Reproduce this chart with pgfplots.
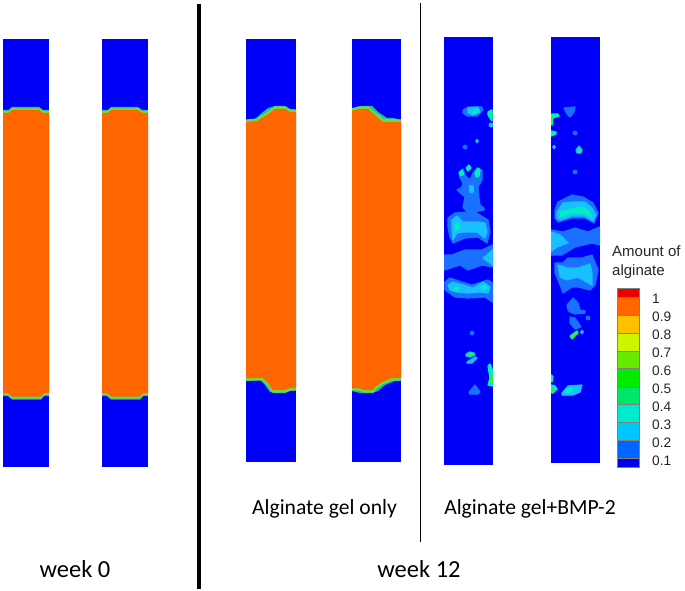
\documentclass[border=0pt]{standalone}
\usepackage{pgfplots}
\pgfplotsset{compat=1.18}
\usepackage{fontspec}
\setmainfont{Carlito}
\newfontfamily\arialf{Liberation Sans}
\definecolor{cB}{HTML}{0000F8}
\definecolor{cO}{HTML}{FF6600}
\definecolor{cT}{HTML}{22BBA0}
\definecolor{cG}{HTML}{66E040}
\definecolor{lA}{HTML}{1A70FF}
\definecolor{lB}{HTML}{18C0FF}
\definecolor{lC}{HTML}{00EEC0}
\definecolor{lD}{HTML}{20F060}
\newcommand\poly[2]{\addplot[fill=#1,draw=none,forget plot] coordinates {#2} --cycle;}
\newcommand\blob[2]{\addplot[fill=#1,draw=#1,line width=1.2pt,line join=round,forget plot] coordinates {#2} --cycle;}
\newcommand\lin[2]{\addplot[draw=cG,line width=2.4pt,forget plot,line cap=butt,line join=round] coordinates {#2};}
\newcommand\spot[3]{\addplot[color=#1,only marks,mark=#3,mark size=2.2pt,mark options={fill=#1,draw=#1},forget plot] coordinates {#2};}
\begin{document}
\begin{tikzpicture}
\begin{axis}[width=685pt,height=591pt,scale only axis,xmin=0,xmax=685,ymin=0,ymax=591,y dir=reverse,axis lines=none,clip=false]
\path (axis cs:0,0) (axis cs:685,591);
% --- week 0
\poly{cB}{(3,39)(49,39)(49,467)(3,467)}
\poly{cB}{(102,39)(148,39)(148,467)(102,467)}
\poly{cT}{(3,110)(9,110)(12,107)(39,107)(43,110)(49,110)(49,396)(44,396)(41,399.5)(12,399.5)(8,396)(3,396)}
\poly{cT}{(102,110)(108,110)(111,107)(138,107)(142,110)(148,110)(148,396)(143,396)(140,399.5)(111,399.5)(107,396)(102,396)}
\lin{}{(3,112)(9,112)(12,109)(39,109)(43,112)(49,112)}
\lin{}{(102,112)(108,112)(111,109)(138,109)(142,112)(148,112)}
\lin{}{(3,394)(8,394)(12,397.5)(41,397.5)(44,394)(49,394)}
\lin{}{(102,394)(107,394)(111,397.5)(140,397.5)(143,394)(148,394)}
\poly{cO}{(3,113)(9,113)(12,110)(39,110)(43,113)(49,113)(49,393)(44,393)(41,396.5)(12,396.5)(8,393)(3,393)}
\poly{cO}{(102,113)(108,113)(111,110)(138,110)(142,113)(148,113)(148,393)(143,393)(140,396.5)(111,396.5)(107,393)(102,393)}
% --- alginate gel only
\poly{cB}{(246,39)(296,39)(296,462)(246,462)}
\poly{cB}{(352,39)(401,39)(401,462)(352,462)}
\poly{cT}{(246,120)(255,119)(263,112)(268,108)(275,106)(285,106)(290,109)(296,110)(296,390)(290,391)(285,393)(275,393)(270,392)(265,385)(260,380)(250,381)(246,381)}
\poly{cT}{(352,108)(362,106)(372,106)(378,112)(387,118)(393,118)(401,120)(401,381)(395,381)(385,385)(378,391)(372,393)(360,393)(352,391)}
\addplot[draw=cG,line width=3pt,forget plot] coordinates {(246,121)(257,120)(267,114)(275,108)(285,108)(290,111)(296,111)};
\addplot[draw=cG,line width=3pt,forget plot] coordinates {(352,110)(358,108)(368,108)(377,115.5)(383,120.5)(393,120.5)(401,121)};
\addplot[draw=cG,line width=3pt,forget plot] coordinates {(246,379)(263,379)(268,384)(273,391)(285,391)(290,389)(296,389)};
\addplot[draw=cG,line width=3pt,forget plot] coordinates {(352,389)(358,389)(365,391)(373,391)(375,388)(382,383)(392,379)(401,379)};
\poly{cO}{(246,122)(257,121)(267,115)(275,109)(285,109)(290,112)(296,112)(296,388)(290,388)(285,390)(273,390)(268,383)(263,378)(246,378)}
\poly{cO}{(352,111)(358,109)(368,109)(377,117)(383,122)(401,122)(401,378)(392,378)(382,382)(375,387)(373,390)(365,390)(358,388)(352,388)}
% --- alginate gel + BMP-2, left column
\poly{cB}{(444,37)(493,37)(493,465)(444,465)}
\poly{cB}{(551,37)(600,37)(600,463)(551,463)}
\blob{lA}{(463,110)(468,107)(482,107)(483,110)(477,116)(467,116)(463,113)}
\blob{lB}{(468,108)(478,107)(480,112)(473,115)(468,113)}
\blob{lC}{(473,111)(478,109)(478,112)(474,114)}
\blob{lC}{(488,112)(491,110)(492,110)(492,121)(490,118)(488,115)}
\blob{lD}{(490,114)(492,112)(492,117)(491,116)}
\spot{lB}{(491,125)}{*}
\spot{lB}{(477,141)}{diamond*}
\spot{lA}{(465,147)}{*}
\blob{lA}{(459,172)(463,169)(465,175)(470,180)(473,173)(477,168)(482,170)(482,180)(478,187)(479,198)(480,205)(484,208)(484,210)(474,212)(467,212)(463,207)(465,197)(457,190)(462,187)(463,183)(460,178)}
\blob{lB}{(470,186)(473,186)(473,192)(470,192)}
\blob{lC}{(459,173)(462,170)(464,174)(461,176)}
\blob{lC}{(466,168)(469,165)(471,168)(468,171)}
\blob{lC}{(475,173)(478,168)(480,170)(479,176)(476,177)}
\blob{lA}{(448,218)(455,213)(467,212)(475,212)(488,220)(490,232)(487,243)(478,237)(465,238)(453,243)(450,237)(448,227)}
\blob{lB}{(452,220)(457,216)(463,222)(478,222)(485,223)(487,232)(485,238)(477,232)(463,232)(457,233)(453,240)(452,230)}
\blob{lC}{(455,225)(458,223)(460,227)(456,231)}
\blob{lA}{(444.6,255)(452,255)(465,250)(482,250)(492.4,245)(492.4,267)(482,265)(468,270)(460,265)(444.6,270)}
\blob{lB}{(483,258)(492.4,250)(492.4,265)}
\blob{lA}{(445,282)(450,278)(462,282)(472,285)(488,280)(492.4,283)(492.4,302)(485,297)(468,298)(455,297)(445,290)}
\blob{lB}{(448,285)(453,282)(463,285)(473,288)(483,282)(490,287)(488,293)(478,292)(468,293)(457,292)(450,290)}
\blob{lC}{(454,289)(457,287)(459,289)(456,291)}
\blob{lC}{(481,287)(485,285)(487,288)(483,290)}
\spot{lA}{(472,333)}{*}
\blob{lB}{(466,354)(470,352)(474,353)(475,355)(470,357)(466,356)}
\blob{lD}{(468,354)(471,353)(473,355)(470,356)}
\blob{lB}{(467,362)(475,357)(477,358)(472,363)(467,363)}
\blob{lC}{(488,366)(490,364)(492.4,370)(492.4,386)(488,385)(490,378)(489,372)}
\blob{lD}{(491,374)(492.4,374)(492.4,384)(490,382)}
\blob{lA}{(469,392)(475,385)(480,392)(478,394)(470,394)}
% --- right column
\blob{lA}{(564,108)(575,107)(574,112)(570,117)(567,114)}
\blob{lC}{(551.6,114)(558,114)(559,116)(553,118)(552.5,125)(551.6,125)}
\blob{lD}{(551.6,116)(553,117)(551.6,123)}
\blob{lC}{(551.6,131)(556,132)(556,134)(551.6,136)}
\spot{lB}{(554,147)}{diamond*}
\spot{lA}{(575,133)}{*}
\spot{lA}{(575,172)}{*}
\blob{lB}{(576,150)(579,146)(582,150)(581,153)(577,153)}
\blob{lD}{(578,150)(580,149)(581,151)(579,152)}
\blob{lA}{(555,210)(558,202)(572,195)(583,197)(593,203)(598,213)(594,223)(585,218)(572,218)(558,222)(555,218)}
\blob{lB}{(557,212)(563,203)(575,202)(585,202)(592,208)(596,215)(593,221)(585,216)(572,216)(560,220)(557,218)}
\blob{lC}{(560,212)(572,209)(583,207)(590,212)(592,217)(582,213)(568,214)(561,217)}
\blob{lA}{(551.6,230)(563,232)(575,228)(588,232)(599.4,227)(599.4,245)(592,243)(575,247)(562,255)(551.6,255)}
\blob{lB}{(551.6,232)(560,235)(568,243)(557,247)(551.6,251)}
\blob{lA}{(555,263)(563,263)(568,258)(582,258)(592,255)(598,270)(595,285)(590,290)(578,287)(572,287)(563,293)(560,285)(555,273)}
\blob{lB}{(558,265)(567,268)(578,268)(590,264)(592,273)(592,285)(578,277)(567,280)(560,277)}
\blob{lA}{(567,305)(573,298)(578,303)(580,310)(585,311)(585,313)(575,314)(570,312)(568,310)}
\blob{lA}{(570,317)(575,318)(581,327)(575,329)(570,323)}
\spot{lA}{(588,318)}{*}
\blob{lD}{(570,336)(577,331)(578,333)(572,339)}
\spot{lB}{(582,332)}{diamond*}
\blob{lC}{(551.6,375)(553,377)(552,382)(551.6,382)}
\blob{lC}{(551.6,385)(555,386)(557,389)(553,393)(551.6,393)}
\blob{lD}{(551.6,387)(553,388)(554,390)(551.6,391)}
\blob{lB}{(562,393)(568,386)(582,385)(580,392)(573,395)(562,395)}
\blob{lC}{(565,392)(568,388)(572,388)(570,393)}
% --- colour bar
\addplot[fill={rgb,255:red,238;green,0;blue,0},draw=gray,line width=0.5pt,forget plot] coordinates {(617,288)(639,288)(639,297)(617,297)} --cycle;
\addplot[fill={rgb,255:red,255;green,102;blue,0},draw=gray,line width=0.5pt,forget plot] coordinates {(617,297)(639,297)(639,315)(617,315)} --cycle;
\addplot[fill={rgb,255:red,255;green,192;blue,0},draw=gray,line width=0.5pt,forget plot] coordinates {(617,315)(639,315)(639,333)(617,333)} --cycle;
\addplot[fill={rgb,255:red,204;green,245;blue,0},draw=gray,line width=0.5pt,forget plot] coordinates {(617,333)(639,333)(639,351)(617,351)} --cycle;
\addplot[fill={rgb,255:red,102;green,235;blue,0},draw=gray,line width=0.5pt,forget plot] coordinates {(617,351)(639,351)(639,368)(617,368)} --cycle;
\addplot[fill={rgb,255:red,0;green,235;blue,0},draw=gray,line width=0.5pt,forget plot] coordinates {(617,368)(639,368)(639,387)(617,387)} --cycle;
\addplot[fill={rgb,255:red,0;green,230;blue,105},draw=gray,line width=0.5pt,forget plot] coordinates {(617,387)(639,387)(639,404)(617,404)} --cycle;
\addplot[fill={rgb,255:red,0;green,235;blue,205},draw=gray,line width=0.5pt,forget plot] coordinates {(617,404)(639,404)(639,422)(617,422)} --cycle;
\addplot[fill={rgb,255:red,0;green,200;blue,255},draw=gray,line width=0.5pt,forget plot] coordinates {(617,422)(639,422)(639,440)(617,440)} --cycle;
\addplot[fill={rgb,255:red,0;green,102;blue,255},draw=gray,line width=0.5pt,forget plot] coordinates {(617,440)(639,440)(639,458)(617,458)} --cycle;
\addplot[fill={rgb,255:red,0;green,0;blue,235},draw=gray,line width=0.5pt,forget plot] coordinates {(617,458)(639,458)(639,467)(617,467)} --cycle;
% --- separators
\addplot[black,line width=4pt,forget plot] coordinates {(199,4)(199,589)};
\addplot[black,line width=0.9pt,forget plot] coordinates {(420,3)(420,542)};
% --- text
\node[anchor=base west,font=\fontsize{15}{15}\selectfont\arialf,text=black!85,inner sep=0pt] at (axis cs:612,256) {Amount of};
\node[anchor=base west,font=\fontsize{15}{15}\selectfont\arialf,text=black!85,inner sep=0pt] at (axis cs:612,275) {alginate};
\foreach \v/\y in {1/303,0.9/321,0.8/339,0.7/357,0.6/375,0.5/393,0.4/411,0.3/429,0.2/447,0.1/465}{
\edef\tmp{\noexpand\node[anchor=base west,font=\noexpand\fontsize{13.7}{14}\noexpand\selectfont\noexpand\arialf,text=black!85,inner sep=0pt] at (axis cs:652,\y) {\v};}\tmp}
\node[anchor=base,font=\fontsize{24.5}{24}\selectfont,inner sep=0pt] at (axis cs:75,577) {week 0};
\node[anchor=base,font=\fontsize{24.5}{24}\selectfont,inner sep=0pt] at (axis cs:419,577) {week 12};
\node[anchor=base,font=\fontsize{21.6}{22}\selectfont,inner sep=0pt] at (axis cs:324.5,514) {Alginate gel only};
\node[anchor=base,font=\fontsize{21.6}{22}\selectfont,inner sep=0pt] at (axis cs:530,514) {Alginate gel+BMP-2};
\end{axis}
\end{tikzpicture}
\end{document}
